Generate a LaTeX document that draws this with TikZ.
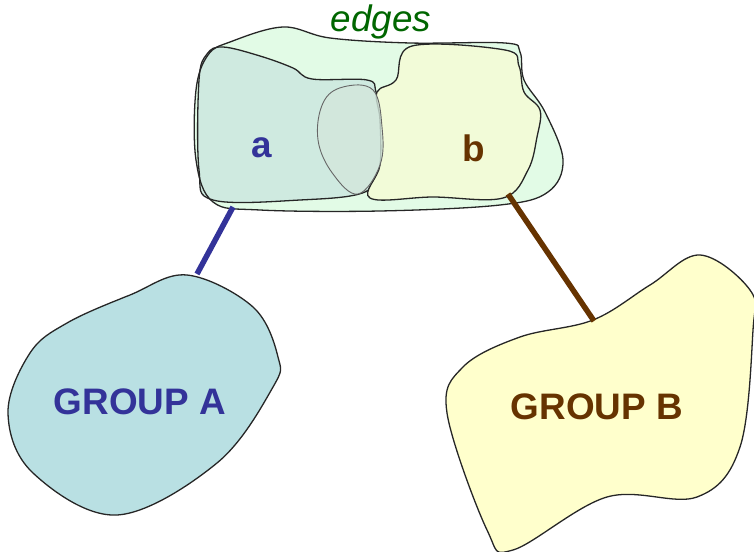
\documentclass[tikz,border=0pt]{standalone}
\usepackage{fontspec}
\setmainfont{Liberation Sans}
\definecolor{edgefill}{HTML}{E2FBE6}
\definecolor{afill}{HTML}{CFEAE0}
\definecolor{bfill}{HTML}{F2FBD8}
\definecolor{ovfill}{HTML}{D3E7DC}
\definecolor{gafill}{HTML}{B9E0E3}
\definecolor{gbfill}{HTML}{FFFFCC}
\definecolor{ablue}{HTML}{333399}
\definecolor{bbrown}{HTML}{663300}
\definecolor{egreen}{HTML}{006600}
\begin{document}
\begin{tikzpicture}[x=1bp,y=-1bp,
  blob/.style={draw=black!85, line width=1.3bp},
  thinblob/.style={draw=black!60, line width=0.9bp},
  lbl/.style={font=\fontsize{37}{42}\selectfont\bfseries},
  conn/.style={line width=5.5bp},
  ]
\useasboundingbox (0,0) rectangle (754,552);
\def\edgepts{(283,27) (330,38) (410,43) (505,43) (520,52) (524,80) (545,112) (563,160) (548,192) (500,205) (380,211) (260,210) (213,202) (196,160) (196,90) (208,55) (230,42)}
% edges outer blob
\fill[edgefill] plot[smooth cycle, tension=0.6] coordinates {\edgepts};
% blob a
\path[blob, fill=afill] plot[smooth cycle, tension=0.6] coordinates {(223,47) (260,56) (293,68) (312,79) (367,80) (376,92) (382,127) (380,165) (365,192) (300,200) (213,200) (199,170) (199,80) (207,54)};
% blob b
\path[blob, fill=bfill] plot[smooth cycle, tension=0.6] coordinates {(412,46) (505,50) (519,66) (524,92) (540,110) (537,137) (528,170) (503,198) (433,197) (370,198) (380,165) (380,120) (377,92) (396,80)};
% overlap blob
\path[thinblob, fill=ovfill, fill opacity=0.8] plot[smooth cycle, tension=0.65] coordinates {(343,87) (373,90) (382,127) (380,165) (358,194) (333,174) (318,140) (323,103)};
% outline of edges blob on top
\draw[blob] plot[smooth cycle, tension=0.6] coordinates {\edgepts};
% group A
\path[blob, fill=gafill] plot[smooth cycle, tension=0.6] coordinates {(187,275) (253,307) (278,357) (273,387) (217,463) (117,515) (33,473) (8,413) (30,353) (67,323) (130,295)};
% group B
\path[blob, fill=gbfill] plot[smooth cycle, tension=0.6] coordinates {(700,255) (750,290) (753,330) (740,447) (697,497) (607,497) (513,550) (487,530) (447,413) (463,367) (520,337) (593,320) (650,285)};
% connector ends
\coordinate (aTop) at (233,207);
\coordinate (aBot) at (197,274);
\coordinate (bTop) at (508,194);
\coordinate (bBot) at (594,321);
\draw[conn, ablue] (aTop) -- (aBot);
\draw[conn, bbrown] (bTop) -- (bBot);
% labels
\node[font=\fontsize{37}{42}\selectfont\itshape, text=egreen] (edges) at (381,22) {edges};
\node[lbl, text=ablue] (a) at (262,148) {a};
\node[lbl, text=bbrown] (b) at (474,148) {b};
\node[lbl, text=ablue] (ga) at (140,402) {GROUP A};
\node[lbl, text=bbrown] (gb) at (597,407) {GROUP B};
\end{tikzpicture}
\end{document}
